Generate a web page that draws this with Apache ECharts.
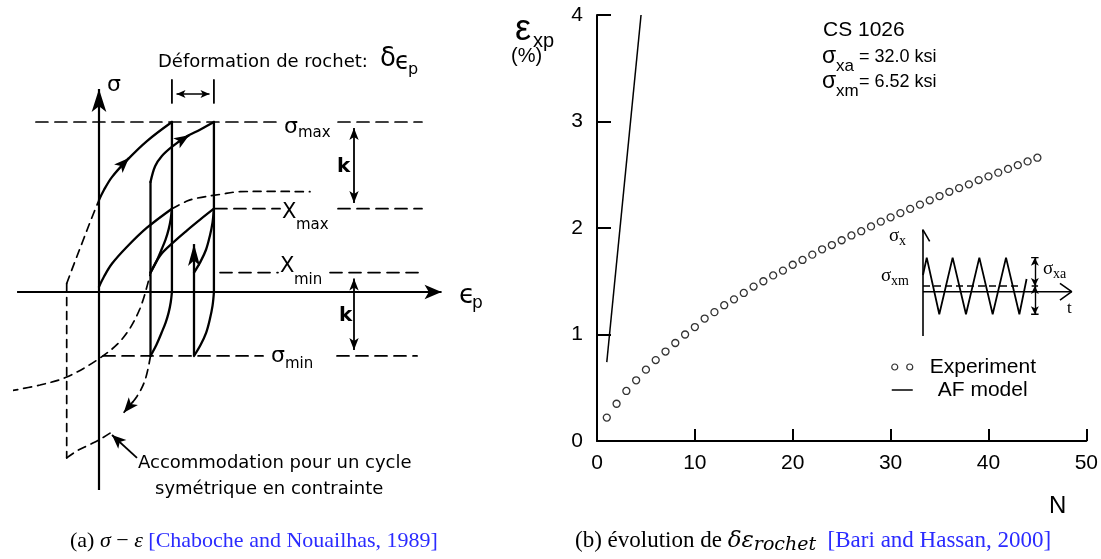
<!DOCTYPE html>
<html>
<head>
<meta charset="utf-8">
<script src="https://cdn.jsdelivr.net/npm/echarts@6/dist/echarts.min.js"></script>
<style>
html,body{margin:0;padding:0;background:#ffffff;}
#chart{width:1101px;height:559px;}
</style>
</head>
<body>
<div id="chart"></div>
<script>
// ================= (b) ratchet strain evolution =================
const cycles = [1,2,3,4,5,6,7,8,9,10,11,12,13,14,15,16,17,18,19,20,21,22,23,24,25,26,27,28,29,30,31,32,33,34,35,36,37,38,39,40,41,42,43,44,45];
const strainExperiment = [0.22,0.35,0.47,0.57,0.67,0.76,0.84,0.92,1.00,1.07,1.15,1.21,1.275,1.33,1.39,1.45,1.50,1.555,1.60,1.655,1.70,1.75,1.80,1.84,1.885,1.93,1.97,2.015,2.06,2.10,2.14,2.18,2.22,2.26,2.30,2.34,2.375,2.41,2.45,2.485,2.52,2.555,2.59,2.625,2.66];
const modelCycles = [1.0, 4.5];
const modelStrain = [0.74, 4.0];
const xTicks = [0, 10, 20, 30, 40, 50];
const yTicks = [0, 1, 2, 3, 4];

// inset : imposed stress history (ksi)
const sigmaXa = 32.0;
const sigmaXm = 6.52;
const waveTime = [0, 0.14, 0.61, 1.11, 1.61, 2.11, 2.61, 3.11, 3.61, 3.88];
const waveStress = [18.9, 38.52, -25.48, 38.52, -25.48, 38.52, -25.48, 38.52, -25.48, 14.4];
const meanTime = [0, 3.71];
const markerTime = 4.19;
const insetSigmaAxis = [[0, -50], [0, 70]];
const insetSigmaHead = [[-0.25, 56.8], [0, 70], [0.25, 56.8]];
const insetTimeAxis = [[0, 0], [5.57, 0]];
const insetTimeHead = [[5.13, 9.5], [5.57, 0], [5.13, -9.5]];

// ================= (a) schematic sigma - eps_p =================
const levelSigmaMax = 1.0, levelXMax = 0.49, levelXMin = 0.114, levelSigmaMin = -0.376;
const loading1 = [[0,0.541],[0.029,0.6],[0.076,0.676],[0.165,0.776],[0.282,0.888],[0.429,1.0]];
const backstress1 = [[0,0.031],[0.029,0.09],[0.076,0.166],[0.165,0.266],[0.282,0.378],[0.429,0.49]];
const unload1 = [[0.429,1.0],[0.429,0]];
const reverse1 = [[0.429,0],[0.422,-0.06],[0.41,-0.12],[0.392,-0.18],[0.368,-0.24],[0.338,-0.31],[0.303,-0.376]];
const reverseX1 = [[0.429,0.49],[0.422,0.43],[0.41,0.37],[0.392,0.31],[0.368,0.25],[0.338,0.18],[0.303,0.114]];
const reload1 = [[0.303,-0.376],[0.303,0.647]];
const loading2 = [[0.303,0.647],[0.33,0.74],[0.37,0.8],[0.43,0.855],[0.51,0.912],[0.594,0.955],[0.676,1.0]];
const backstress2 = [[0.303,0.114],[0.36,0.215],[0.435,0.29],[0.515,0.36],[0.6,0.43],[0.676,0.49]];
const unload2 = [[0.676,1.0],[0.676,0]];
const reverse2 = [[0.676,0],[0.668,-0.08],[0.652,-0.16],[0.63,-0.24],[0.598,-0.31],[0.559,-0.376]];
const reverseX2 = [[0.676,0.49],[0.668,0.41],[0.652,0.33],[0.63,0.25],[0.598,0.18],[0.559,0.114]];
const loadingExt = [[-0.19,0.05],[-0.145,0.17],[-0.095,0.3],[-0.045,0.43],[0,0.541]];
const accomVertical = [[-0.19,0.05],[-0.19,-0.976]];
const accomLower = [[-0.19,-0.976],[-0.13,-0.935],[-0.06,-0.9],[0,-0.87],[0.065,-0.83]];
const backstressExt = [[-0.524,-0.582],[-0.347,-0.547],[-0.19,-0.5],[0.006,-0.388],[0.141,-0.271],[0.24,-0.1],[0.303,0.114]];
const saturationArc = [[0.429,0.49],[0.518,0.535],[0.576,0.552],[0.712,0.574],[0.829,0.59],[1.006,0.592],[1.241,0.59]];
const reverseExt = [[0.303,-0.376],[0.271,-0.518],[0.222,-0.616],[0.16,-0.69]];
const sigmaMaxDash = [[[-0.371,1],[1.071,1]], [[1.406,1],[1.9,1]]];
const xMaxDash = [[[0.682,0.49],[1.065,0.49]], [[1.406,0.49],[1.9,0.49]]];
const xMinDash = [[[0.712,0.114],[1.053,0.114]], [[1.359,0.114],[1.9,0.114]]];
const sigmaMinDash = [[[0.024,-0.376],[0.965,-0.376]], [[1.4,-0.376],[1.871,-0.376]]];
const bracketTicks = [[[0.429,1.247],[0.429,1.112]], [[0.676,1.247],[0.676,1.112]]];

const DJ = 'DejaVu Sans', LS = 'Liberation Sans', SER = 'Liberation Serif', DSER = 'DejaVu Serif';
const series = [];

function schem(data, opts) {
  opts = opts || {};
  series.push({
    type: 'line', xAxisIndex: 1, yAxisIndex: 1, data: data, symbol: 'none', showSymbol: false,
    smooth: opts.smooth ? 0.35 : false, silent: true, animation: false, clip: false, z: 3,
    lineStyle: { color: '#000', width: opts.w || 2.3, type: opts.dash ? opts.dash : 'solid', cap: 'round' }
  });
}
// solid curves
[loading1, backstress1, reverse1, reverseX1, loading2, backstress2, reverse2, reverseX2].forEach(d => schem(d, {smooth: true}));
[unload1, reload1, unload2].forEach(d => schem(d, {}));
// dashed curves
[loadingExt, accomLower, backstressExt, saturationArc, reverseExt].forEach(d => schem(d, {smooth: true, w: 1.7, dash: [8, 6]}));
schem(accomVertical, {w: 1.7, dash: [8, 6]});
[sigmaMaxDash, xMaxDash, xMinDash, sigmaMinDash].forEach(g => g.forEach(d => schem(d, {w: 1.7, dash: [12, 7]})));
bracketTicks.forEach(d => schem(d, {w: 1.8}));

function arrowLine(a, b, startSym, endSym, size, width) {
  return [
    { coord: a, symbol: startSym, symbolSize: size, lineStyle: { width: width, color: '#000', type: 'solid' } },
    { coord: b, symbol: endSym, symbolSize: size }
  ];
}
series.push({
  type: 'line', xAxisIndex: 1, yAxisIndex: 1, data: [[0, 0]], symbol: 'none', showSymbol: false,
  lineStyle: { width: 0 }, silent: true, animation: false, clip: false, z: 4,
  markLine: {
    silent: true, animation: false, label: { show: false }, emphasis: { disabled: true },
    lineStyle: { color: '#000', width: 2, type: 'solid' },
    data: [
      arrowLine([0, -1.165], [0, 1.194], 'none', 'arrow', [11, 23], 2.2),          // sigma axis
      arrowLine([-0.482, 0], [2.015, 0], 'none', 'arrow', [11, 17], 2.0),          // eps_p axis
      arrowLine([0.456, 1.165], [0.65, 1.165], 'arrow', 'arrow', [6, 9], 1.5),      // ratchet bracket
      arrowLine([1.5, 0.965], [1.5, 0.524], 'arrow', 'arrow', [7, 12], 1.8),        // k upper
      arrowLine([1.5, 0.079], [1.5, -0.341], 'arrow', 'arrow', [7, 12], 1.8),       // k lower
      arrowLine([0.2235, -0.976], [0.0765, -0.841], 'none', 'arrow', [9, 14], 1.8),  // pointer
      arrowLine([0.559, -0.376], [0.559, 0.282], 'none', 'arrow', [9, 22], 2.3),    // reload 2 (up)
      arrowLine([0.129, 0.741], [0.176, 0.788], 'none', 'arrow', [9, 15], 2.3),     // arrow on loading1
      arrowLine([0.47, 0.884], [0.53, 0.922], 'none', 'arrow', [9, 15], 2.3),       // arrow on loading2
      arrowLine([0.2, -0.645], [0.145, -0.71], 'none', 'arrow', [9, 15], 1.7)       // arrow on dashed reverse
    ]
  }
});

// ---------- (b) series ----------
series.push({
  name: 'Experiment', type: 'scatter', xAxisIndex: 0, yAxisIndex: 0,
  data: cycles.map((n, i) => [n, strainExperiment[i]]),
  symbol: 'circle', symbolSize: 7, animation: false, silent: true, z: 5,
  itemStyle: { color: '#fff', borderColor: '#000', borderWidth: 1.3 }
});
series.push({
  name: 'AF model', type: 'line', xAxisIndex: 0, yAxisIndex: 0,
  data: modelCycles.map((n, i) => [n, modelStrain[i]]),
  symbol: 'none', showSymbol: false, animation: false, silent: true, z: 5,
  itemStyle: { color: '#000' },
  lineStyle: { color: '#000', width: 1.5 }
});

// ---------- inset ----------
function inset(data, w, dash) {
  series.push({
    type: 'line', xAxisIndex: 2, yAxisIndex: 2, data: data, symbol: 'none', showSymbol: false,
    silent: true, animation: false, clip: false, z: 6,
    lineStyle: { color: '#000', width: w, type: dash || 'solid' }
  });
}
inset(waveTime.map((t, i) => [t, waveStress[i]]), 1.8);
inset(meanTime.map(t => [t, sigmaXm]), 1.5, [7, 4]);
inset(insetSigmaAxis, 1.6);
inset(insetSigmaHead, 1.6);
inset(insetTimeAxis, 1.6);
inset(insetTimeHead, 1.6);
inset([[markerTime - 0.14, sigmaXm + sigmaXa], [markerTime + 0.14, sigmaXm + sigmaXa]], 1.4);
inset([[markerTime - 0.14, sigmaXm - sigmaXa], [markerTime + 0.14, sigmaXm - sigmaXa]], 1.4);
inset([[markerTime - 0.12, sigmaXm], [markerTime + 0.12, sigmaXm]], 1.4);
series.push({
  type: 'line', xAxisIndex: 2, yAxisIndex: 2, data: [[0, 0]], symbol: 'none', showSymbol: false,
  lineStyle: { width: 0 }, silent: true, animation: false, clip: false, z: 6,
  markLine: {
    silent: true, animation: false, label: { show: false }, emphasis: { disabled: true },
    lineStyle: { color: '#000', width: 1.4, type: 'solid' },
    data: [
      arrowLine([markerTime, sigmaXm], [markerTime, sigmaXm + sigmaXa], 'arrow', 'arrow', [6, 8], 1.4),
      arrowLine([markerTime, sigmaXm], [markerTime, sigmaXm - sigmaXa], 'arrow', 'arrow', [6, 8], 1.4)
    ]
  }
});

// ---------- texts ----------
function T(x, y, text, size, family, extra) {
  return { type: 'text', x: x, y: y, silent: true, z: 10,
    style: Object.assign({ text: text, fontSize: size, fontFamily: family, fill: '#000',
      align: 'left', verticalAlign: 'middle', textAlign: 'left', textVerticalAlign: 'middle' }, extra || {}) };
}
const texts = [
  // (a)
  T(158, 62, 'Déformation de rochet:', 18, DJ),
  T(380, 59, 'δ', 26, DJ),
  T(395, 63, 'ϵ', 24, DJ),
  T(408, 70, 'p', 16, DJ),
  T(107, 85, 'σ', 22, DJ),
  T(284, 127, 'σ', 22, DJ), T(298, 133, 'max', 15, DJ),
  T(282, 213, 'X', 21, DJ), T(296, 225, 'max', 15, DJ),
  T(280, 267, 'X', 21, DJ), T(294, 280, 'min', 15, DJ),
  T(271, 356, 'σ', 22, DJ), T(285, 364, 'min', 15, DJ),
  T(337, 167, 'k', 20, DJ, { fontWeight: 'bold' }),
  T(339, 316, 'k', 20, DJ, { fontWeight: 'bold' }),
  T(459, 296, 'ϵ', 26, DJ), T(472, 304, 'p', 17, DJ),
  T(138, 463, 'Accommodation pour un cycle', 18, DJ),
  T(155, 489, 'symétrique en contrainte', 18, DJ),
  // (b)
  T(515, 30, 'ε', 36, LS),
  T(533, 41, 'xp', 20, LS),
  T(511, 56, '(%)', 20, LS),
  T(1049, 506, 'N', 24, LS),
  T(823, 30, 'CS 1026', 21, LS),
  T(822, 57, 'σ', 23, LS), T(836, 66, 'xa', 17, LS), T(859, 57, '= 32.0 ksi', 18, LS),
  T(822, 82, 'σ', 23, LS), T(836, 91, 'xm', 17, LS), T(859, 82, '= 6.52 ksi', 18, LS),
  // inset
  T(889, 236, 'σ', 19, SER), T(899, 241, 'x', 14, SER),
  T(881, 276, 'σ', 19, SER), T(891, 281, 'xm', 14, SER),
  T(1043, 269, 'σ', 19, SER), T(1053, 274, 'xa', 14, SER),
  T(1067, 309, 't', 17, SER),
  // captions
  { type: 'text', x: 70, y: 541, silent: true, z: 10, style: {
      text: '(a) {i|σ} − {i|ε} {b|[Chaboche and Nouailhas, 1989]}',
      fontSize: 22, fontFamily: SER, fill: '#000', align: 'left', verticalAlign: 'middle',
      rich: { i: { fontSize: 22, fontFamily: SER, fontStyle: 'italic', fill: '#000' },
              b: { fontSize: 22, fontFamily: SER, fill: '#2b2bff' } } } },
  { type: 'text', x: 575, y: 541, silent: true, z: 10, style: {
      text: '(b) évolution de {i|δε}{s|rochet}  {b|[Bari and Hassan, 2000]}',
      fontSize: 23, fontFamily: SER, fill: '#000', align: 'left', verticalAlign: 'middle', lineHeight: 28,
      rich: { i: { fontSize: 23, fontFamily: DSER, fontStyle: 'italic', fill: '#000', lineHeight: 28 },
              s: { fontSize: 19, fontFamily: DSER, fontStyle: 'italic', fill: '#000', lineHeight: 19, verticalAlign: 'bottom' },
              b: { fontSize: 23, fontFamily: SER, fill: '#2b2bff', lineHeight: 28 } } } }
];

const chart = echarts.init(document.getElementById('chart'), null, { renderer: 'canvas' });
const axisFont = { fontFamily: LS, fontSize: 21, color: '#000' };
chart.setOption({
  backgroundColor: '#ffffff',
  animation: false,
  grid: [
    { left: 597, top: 15, width: 491, height: 426, containLabel: false },
    { left: 14, top: 20, width: 476, height: 476, containLabel: false },
    { left: 923, top: 229.8, width: 149.5, height: 106.1, containLabel: false }
  ],
  xAxis: [
    { gridIndex: 0, type: 'value', min: xTicks[0], max: xTicks[xTicks.length - 1], interval: xTicks[1] - xTicks[0],
      axisLine: { show: true, lineStyle: { color: '#000', width: 2 } },
      axisTick: { show: true, inside: true, length: 12, lineStyle: { color: '#000', width: 2 } },
      axisLabel: Object.assign({ margin: 12 }, axisFont), splitLine: { show: false } },
    { gridIndex: 1, type: 'value', min: -0.5, max: 2.3, show: false },
    { gridIndex: 2, type: 'value', min: 0, max: 5.6, show: false }
  ],
  yAxis: [
    { gridIndex: 0, type: 'value', min: yTicks[0], max: yTicks[yTicks.length - 1], interval: yTicks[1] - yTicks[0],
      axisLine: { show: true, lineStyle: { color: '#000', width: 2 } },
      axisTick: { show: true, inside: true, length: 14, lineStyle: { color: '#000', width: 2 } },
      axisLabel: Object.assign({ margin: 14 }, axisFont), splitLine: { show: false } },
    { gridIndex: 1, type: 'value', min: -1.2, max: 1.6, show: false },
    { gridIndex: 2, type: 'value', min: -50, max: 70, show: false }
  ],
  legend: {
    orient: 'vertical', left: 886, top: 351, itemGap: 1, itemWidth: 21, itemHeight: 6,
    selectedMode: false,
    textStyle: { fontFamily: LS, fontSize: 21, color: '#000', lineHeight: 22 },
    data: [
      { name: 'Experiment', icon: 'path://M0 3A3 3 0 1 0 6 3A3 3 0 1 0 0 3ZM15 3A3 3 0 1 0 21 3A3 3 0 1 0 15 3Z',
        itemStyle: { color: '#fff', borderColor: '#000', borderWidth: 1.2 }, textStyle: { padding: [0, 0, 0, 12] } },
      { name: 'AF model', itemStyle: { opacity: 0 }, lineStyle: { color: '#000', width: 1.5 },
        textStyle: { padding: [0, 0, 0, 20] } }
    ]
  },
  graphic: texts,
  series: series
});
</script>
</body>
</html>
